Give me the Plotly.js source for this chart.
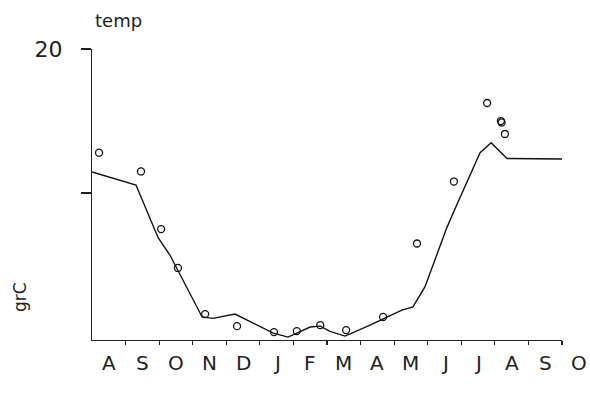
<!DOCTYPE html>
<html><head><meta charset="utf-8">
<script src="https://cdn.plot.ly/plotly-3.0.1.min.js"></script>
<style>html,body{margin:0;padding:0;background:#fff}#chart{width:590px;height:397px}</style>
</head><body><div id="chart"></div>
<script>
// months since start of August (0 = start of Aug)
var lineX = [0, 1.31, 1.97, 2.32, 3.28, 3.6, 4.26, 5.4, 5.84, 6.5, 6.8, 7.09, 7.54, 8.28, 9.23, 9.56, 9.92, 10.57, 10.87, 11.56, 11.89, 12.36, 14.03];
var lineY = [11.46, 10.56, 6.9, 5.7, 1.4, 1.3, 1.6, 0.28, 0.0, 0.7, 0.76, 0.4, 0.07, 0.83, 1.88, 2.1, 3.5, 7.6, 9.2, 12.8, 13.5, 12.4, 12.36];
var obsX = [0.21, 1.46, 2.06, 2.56, 3.37, 4.32, 5.42, 6.1, 6.8, 7.57, 8.67, 9.68, 10.78, 11.77, 12.18, 12.2, 12.3];
var obsY = [12.8, 11.5, 7.5, 4.8, 1.6, 0.76, 0.35, 0.42, 0.83, 0.49, 1.4, 6.5, 10.8, 16.25, 15.0, 14.9, 14.1];
var monthLabels = ['A','S','O','N','D','J','F','M','A','M','J','J','A','S','O'];
var monthTicks = [1,2,3,4,5,6,7,8,9,10,11,12,13,14];
var yTickVals = [10, 20];
var yTickText = ['', '20'];
var xMax = 14;

var fontFam = 'DejaVu Sans, sans-serif';
var annotations = monthLabels.map(function(m, i){
  return {x: (i + 0.5) / xMax, xref: 'paper', y: -0.03, yref: 'paper', yanchor: 'top', xanchor: 'center',
          text: m, showarrow: false, font: {family: fontFam, size: 20, color: '#222'}};
});
annotations.push({x: -0.153, xref: 'paper', y: 0.148, yref: 'paper', xanchor: 'center', yanchor: 'middle',
  text: 'grC', textangle: -90, showarrow: false, font: {family: fontFam, size: 17, color: '#222'}});

var traces = [
  {x: lineX, y: lineY, mode: 'lines', line: {color: '#111', width: 1.4}, hoverinfo: 'none'},
  {x: obsX, y: obsY, mode: 'markers', marker: {symbol: 'circle-open', size: 7, color: '#111', line: {width: 1.3}}, hoverinfo: 'none'}
];

var layout = {
  width: 590, height: 397,
  margin: {l: 92, r: 28, t: 49, b: 57},
  paper_bgcolor: '#fff', plot_bgcolor: '#fff',
  showlegend: false,
  title: {text: 'temp', x: 95/590, xanchor: 'left', y: 1 - 21/397, yanchor: 'middle',
          font: {family: fontFam, size: 18, color: '#222'}},
  xaxis: {range: [0, xMax], showgrid: false, zeroline: false, showline: true, linecolor: '#222', linewidth: 1.2,
          tickmode: 'array', tickvals: monthTicks, ticktext: monthTicks.map(function(){return '';}),
          ticks: 'outside', ticklen: 4, tickcolor: '#222', tickwidth: 1.2},
  yaxis: {range: [-0.2, 20], showgrid: false, zeroline: false, showline: true, linecolor: '#222', linewidth: 1.2,
          tickmode: 'array', tickvals: yTickVals, ticktext: yTickText,
          ticks: 'outside', ticklen: 10, tickcolor: '#222', tickwidth: 1.2,
          ticklabelstandoff: 14,
          tickfont: {family: fontFam, size: 22, color: '#222'}},
  annotations: annotations
};
Plotly.newPlot('chart', traces, layout, {staticPlot: true, displayModeBar: false});
</script></body></html>
